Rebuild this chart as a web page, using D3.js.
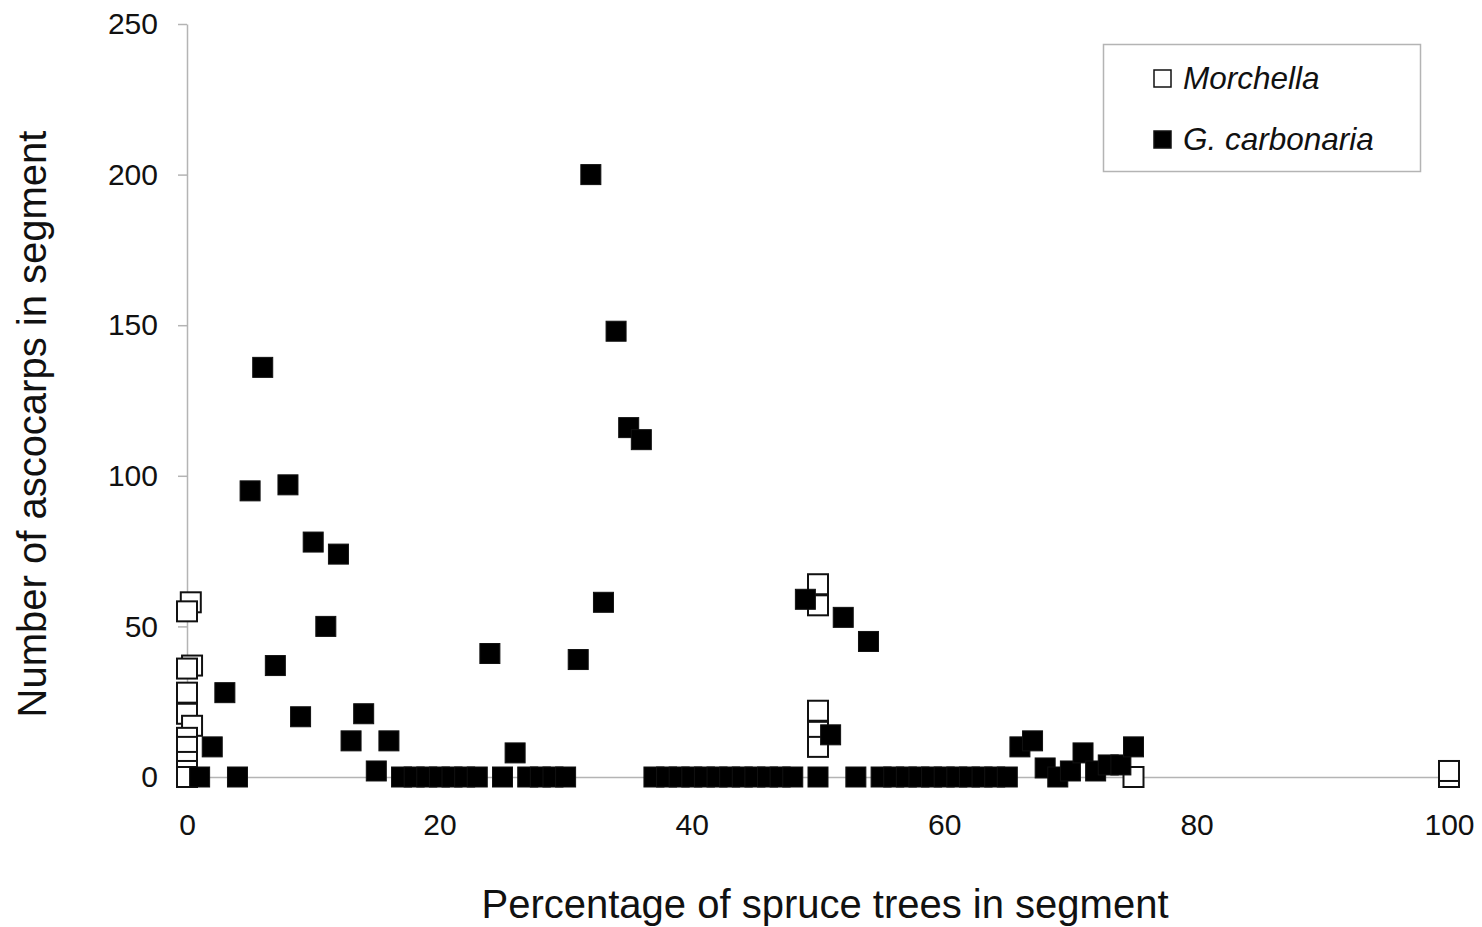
<!DOCTYPE html>
<html>
<head>
<meta charset="utf-8">
<script src="https://cdn.jsdelivr.net/npm/d3@7"></script>
<style>
  body { margin: 0; background: #fff; }
  svg { display: block; font-family: "Liberation Sans", Arial, sans-serif; }
</style>
</head>
<body>
<svg id="chart" width="1482" height="927"></svg>
<script>
// Morchella (open squares)
const morchella_x = [0.3, 0, 0.4, 0, 0, 0, 0.4, 0, 0, 0, 0, 0,
    50, 50, 50, 50, 50, 75, 100, 100]
const morchella_y = [58, 55, 37, 36, 28, 21, 17, 13, 10, 5, 2, 0,
    64, 57, 22, 15, 10, 0, 0, 2]

// G. carbonaria (filled squares)
const carbonaria_x = [1, 2, 3, 4, 5, 6, 7, 8, 9, 10, 11, 12, 13, 14, 15, 16,
    17, 18, 19, 20, 21, 22, 23, 24, 25, 26, 27, 28, 29, 30, 31, 32, 33, 34, 35, 36,
    37, 38, 39, 40, 41, 42, 43, 44, 45, 46, 47, 48, 49, 50, 51, 52, 53, 54,
    55, 56, 57, 58, 59, 60, 61, 62, 63, 64, 65, 66, 67, 68, 69, 70, 71, 72, 73, 74, 75]
const carbonaria_y = [0, 10, 28, 0, 95, 136, 37, 97, 20, 78, 50, 74, 12, 21, 2, 12,
    0, 0, 0, 0, 0, 0, 0, 41, 0, 8, 0, 0, 0, 0, 39, 200, 58, 148, 116, 112,
    0, 0, 0, 0, 0, 0, 0, 0, 0, 0, 0, 0, 59, 0, 14, 53, 0, 45,
    0, 0, 0, 0, 0, 0, 0, 0, 0, 0, 0, 10, 12, 3, 0, 2, 8, 2, 4, 4, 10]

const x_ticks = [0, 20, 40, 60, 80, 100]
const y_ticks = [0, 50, 100, 150, 200, 250]

const svg = d3.select("#chart")
const grey = "#b4b4b4"

const x = d3.scaleLinear().domain([0, 100]).range([187, 1449])
const y = d3.scaleLinear().domain([0, 250]).range([777, 24])

// y axis
const yAxis = svg.append("g")
    .attr("transform", "translate(187,0)")
    .call(d3.axisLeft(y).tickValues(y_ticks).tickSizeInner(9).tickSizeOuter(0).tickPadding(20))
yAxis.select(".domain").attr("stroke", grey).attr("stroke-width", 1.5)
yAxis.selectAll(".tick line").attr("stroke", grey).attr("stroke-width", 1.5)
yAxis.selectAll(".tick text").attr("font-size", 30).attr("fill", "#111")
    .attr("font-family", "Liberation Sans, Arial, sans-serif")

// x axis
const xAxis = svg.append("g")
    .attr("transform", "translate(0,777)")
    .call(d3.axisBottom(x).tickValues(x_ticks).tickSize(0).tickPadding(37))
xAxis.select(".domain").attr("stroke", grey).attr("stroke-width", 1.5)
xAxis.selectAll(".tick text").attr("font-size", 30).attr("fill", "#111")
    .attr("font-family", "Liberation Sans, Arial, sans-serif")

// points
const size = 20
const morchella = morchella_x.map((v, i) => ({x: v, y: morchella_y[i]}))
const carbonaria = carbonaria_x.map((v, i) => ({x: v, y: carbonaria_y[i]}))

svg.append("g").selectAll("rect")
    .data(morchella)
    .join("rect")
    .attr("x", d => x(d.x) - size / 2)
    .attr("y", d => y(d.y) - size / 2)
    .attr("width", size)
    .attr("height", size)
    .attr("fill", "#fff")
    .attr("stroke", "#111")
    .attr("stroke-width", 2)

svg.append("g").selectAll("rect")
    .data(carbonaria)
    .join("rect")
    .attr("x", d => x(d.x) - size / 2)
    .attr("y", d => y(d.y) - size / 2)
    .attr("width", size)
    .attr("height", size)
    .attr("fill", "#000")
    .attr("stroke", "#111")
    .attr("stroke-width", 1)

// axis titles
svg.append("text")
    .attr("x", 825)
    .attr("y", 918)
    .attr("text-anchor", "middle")
    .attr("font-size", 40)
    .attr("fill", "#111")
    .text("Percentage of spruce trees in segment")

svg.append("text")
    .attr("transform", "translate(46,424) rotate(-90)")
    .attr("text-anchor", "middle")
    .attr("font-size", 40)
    .attr("fill", "#111")
    .text("Number of ascocarps in segment")

// legend
const legend = svg.append("g")
legend.append("rect")
    .attr("x", 1103.5).attr("y", 44.5)
    .attr("width", 317).attr("height", 127)
    .attr("fill", "#fff")
    .attr("stroke", grey)
    .attr("stroke-width", 1.5)

const legend_items = [
    {label: "Morchella", fill: "#fff", y: 78},
    {label: "G. carbonaria", fill: "#000", y: 139}
]
legend.selectAll("rect.key")
    .data(legend_items)
    .join("rect")
    .attr("class", "key")
    .attr("x", 1154).attr("y", d => d.y - 8)
    .attr("width", 17).attr("height", 17)
    .attr("fill", d => d.fill)
    .attr("stroke", "#111")
    .attr("stroke-width", 1.5)
legend.selectAll("text")
    .data(legend_items)
    .join("text")
    .attr("x", 1183)
    .attr("y", d => d.y + 11)
    .attr("font-size", 31.5)
    .attr("font-style", "italic")
    .attr("fill", "#111")
    .text(d => d.label)
</script>
</body>
</html>
